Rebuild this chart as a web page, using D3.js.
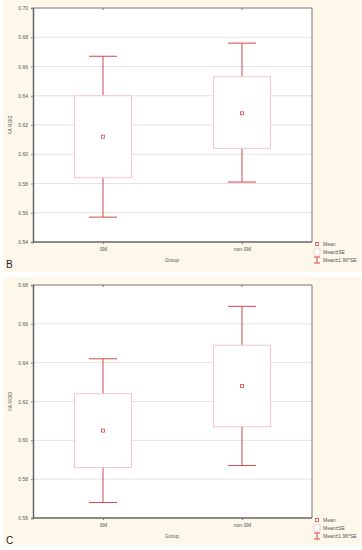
<!DOCTYPE html>
<html><head><meta charset="utf-8">
<script src="https://cdn.jsdelivr.net/npm/d3@7"></script>
<style>body{margin:0;background:#fff;}svg{display:block;font-family:"Liberation Sans",Arial,sans-serif;}</style>
</head><body>
<svg id="c" width="362" height="550"></svg>
<script>
const groups = ["SM", "non-SM"];
// Panel B (FA ROI2)
const meanB = [0.612, 0.628];
const seLoB = [0.584, 0.604];
const seHiB = [0.640, 0.653];
const ciLoB = [0.557, 0.581];
const ciHiB = [0.667, 0.676];
const ticksB = [0.54, 0.56, 0.58, 0.60, 0.62, 0.64, 0.66, 0.68, 0.70];
// Panel C (FA ROI3)
const meanC = [0.605, 0.628];
const seLoC = [0.586, 0.607];
const seHiC = [0.624, 0.649];
const ciLoC = [0.568, 0.587];
const ciHiC = [0.642, 0.669];
const ticksC = [0.56, 0.58, 0.60, 0.62, 0.64, 0.66, 0.68];
const legendLabels = ["Mean", "Mean±SE", "Mean±1.96*SE"];

const svg = d3.select("#c");
const red = "#d4474f", pink = "#f3c6ca", cream = "#fdf8ea";

function panel(o){
  const g = svg.append("g");
  g.append("rect").attr("x",3).attr("y",o.bgTop).attr("width",359).attr("height",o.bgH).attr("fill",cream);
  const x = d3.scalePoint().domain(groups).range([103,242]);
  const y = d3.scaleLinear().domain([o.ticks[0], o.ticks[o.ticks.length-1]]).range([o.bottom, o.top]);
  const L=33, R=312;
  g.append("rect").attr("x",L).attr("y",o.top).attr("width",R-L).attr("height",o.bottom-o.top).attr("fill","#fff");
  // grid
  g.append("g").selectAll("line").data(o.ticks.slice(1,-1)).join("line")
    .attr("x1",L).attr("x2",R).attr("y1",d=>y(d)).attr("y2",d=>y(d))
    .attr("stroke","#e3e3e3").attr("stroke-width",1);
  // frame top/right
  g.append("line").attr("x1",L).attr("x2",R).attr("y1",o.top).attr("y2",o.top).attr("stroke","#777").attr("stroke-width",1);
  g.append("line").attr("x1",R).attr("x2",R).attr("y1",o.top).attr("y2",o.bottom).attr("stroke","#777").attr("stroke-width",1);
  // axes
  const ya = g.append("g").attr("transform",`translate(${L},0)`)
    .call(d3.axisLeft(y).tickValues(o.ticks).tickFormat(d3.format(".2f")).tickSize(2).tickPadding(3));
  ya.select(".domain").attr("stroke","#666").attr("stroke-width",1.5);
  ya.selectAll("text").attr("font-size",5).attr("fill","#555");
  ya.selectAll(".tick line").attr("stroke","#888");
  const xa = g.append("g").attr("transform",`translate(0,${o.bottom})`)
    .call(d3.axisBottom(x).tickSize(2).tickPadding(3));
  xa.select(".domain").attr("d",`M${L},0H${R}`).attr("stroke","#666").attr("stroke-width",1.5);
  xa.selectAll("text").attr("font-size",5).attr("fill","#555");
  xa.selectAll(".tick line").attr("stroke","#777");
  // top ticks
  g.append("g").selectAll("line").data(groups).join("line")
    .attr("x1",d=>x(d)).attr("x2",d=>x(d)).attr("y1",o.top).attr("y2",o.top+2).attr("stroke","#777");
  // boxes
  const hw=28.5, cw=14;
  groups.forEach((gname,i)=>{
    const cx=x(gname);
    g.append("line").attr("x1",cx).attr("x2",cx).attr("y1",y(o.ciHi[i])).attr("y2",y(o.seHi[i])).attr("stroke",red).attr("stroke-width",1);
    g.append("line").attr("x1",cx).attr("x2",cx).attr("y1",y(o.seLo[i])).attr("y2",y(o.ciLo[i])).attr("stroke",red).attr("stroke-width",1);
    g.append("line").attr("x1",cx-cw).attr("x2",cx+cw).attr("y1",y(o.ciHi[i])).attr("y2",y(o.ciHi[i])).attr("stroke",red).attr("stroke-width",1);
    g.append("line").attr("x1",cx-cw).attr("x2",cx+cw).attr("y1",y(o.ciLo[i])).attr("y2",y(o.ciLo[i])).attr("stroke",red).attr("stroke-width",1);
    g.append("rect").attr("x",cx-hw).attr("y",y(o.seHi[i])).attr("width",2*hw).attr("height",y(o.seLo[i])-y(o.seHi[i]))
      .attr("fill","#fff").attr("stroke",pink).attr("stroke-width",1);
    g.append("rect").attr("x",cx-1.5).attr("y",y(o.mean[i])-1.5).attr("width",3).attr("height",3)
      .attr("fill","none").attr("stroke",red).attr("stroke-width",0.8);
  });
  // axis titles
  g.append("text").attr("transform",`translate(12,${(o.top+o.bottom)/2}) rotate(-90)`).attr("text-anchor","middle")
    .attr("font-size",5).attr("fill","#555").text(o.ylab);
  g.append("text").attr("x",172).attr("y",o.bottom+20).attr("text-anchor","middle").attr("font-size",5).attr("fill","#555").text("Group");
  g.append("text").attr("x",6).attr("y",o.letterY).attr("font-size",10).attr("fill","#222").text(o.letter);
  // legend
  const lx=317, ly=o.bottom+2;
  g.append("rect").attr("x",lx-1.5).attr("y",ly-1.5).attr("width",3).attr("height",3).attr("fill","none").attr("stroke",red).attr("stroke-width",0.8);
  g.append("rect").attr("x",lx-3).attr("y",ly+5).attr("width",6).attr("height",6).attr("fill","#fff").attr("stroke",pink).attr("stroke-width",0.8);
  g.append("line").attr("x1",lx).attr("x2",lx).attr("y1",ly+13).attr("y2",ly+19).attr("stroke",red);
  g.append("line").attr("x1",lx-3).attr("x2",lx+3).attr("y1",ly+13).attr("y2",ly+13).attr("stroke",red);
  g.append("line").attr("x1",lx-3).attr("x2",lx+3).attr("y1",ly+19).attr("y2",ly+19).attr("stroke",red);
  [ly, ly+8, ly+16].forEach((yy,k)=>{
    g.append("text").attr("x",lx+6).attr("y",yy+1.5).attr("font-size",5).attr("fill","#555").text(legendLabels[k]);
  });
}

panel({bgTop:0,bgH:272,top:8,bottom:242,ticks:ticksB,mean:meanB,seLo:seLoB,seHi:seHiB,ciLo:ciLoB,ciHi:ciHiB,ylab:"FA ROI2",letter:"B",letterY:268});
panel({bgTop:277,bgH:268,top:285,bottom:518,ticks:ticksC,mean:meanC,seLo:seLoC,seHi:seHiC,ciLo:ciLoC,ciHi:ciHiC,ylab:"FA ROI3",letter:"C",letterY:544});
</script>
</body></html>
